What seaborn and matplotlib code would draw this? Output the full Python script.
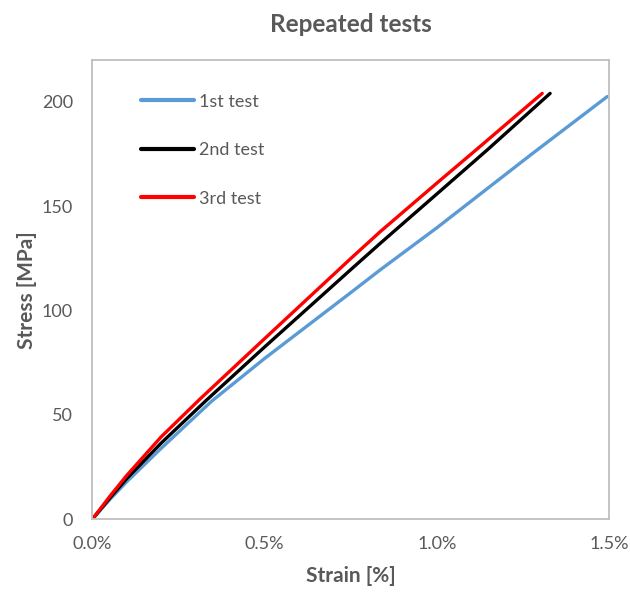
import matplotlib
matplotlib.use("Agg")
import matplotlib.pyplot as plt
import seaborn as sns
import pandas as pd
from matplotlib.ticker import FuncFormatter

# ---- data (strain in %, stress in MPa) ----
strain_1st = [0.0, 0.05, 0.10, 0.20, 0.346, 0.50, 0.749, 0.836, 1.00, 1.273, 1.495]
stress_1st = [0.0, 9.3, 18.0, 34.0, 56.5, 77.0, 108.4, 119.5, 139.6, 174.6, 202.5]

strain_2nd = [0.0, 0.05, 0.10, 0.20, 0.331, 0.50, 0.749, 0.836, 1.00, 1.147, 1.329]
stress_2nd = [0.0, 10.0, 19.5, 36.5, 57.0, 82.5, 119.4, 132.2, 155.8, 177.0, 204.0]

strain_3rd = [0.0, 0.05, 0.10, 0.20, 0.312, 0.50, 0.749, 0.836, 1.00, 1.118, 1.306]
stress_3rd = [0.0, 10.8, 21.0, 39.5, 57.5, 86.5, 124.7, 137.8, 161.0, 177.5, 204.0]

labels = ["1st test", "2nd test", "3rd test"]
colors = ["#5B9BD5", "#000000", "#FF0000"]

x_ticks = [0.0, 0.5, 1.0, 1.5]
y_ticks = [0, 50, 100, 150, 200]

frames = []
for lab, xs, ys in zip(labels, [strain_1st, strain_2nd, strain_3rd],
                       [stress_1st, stress_2nd, stress_3rd]):
    frames.append(pd.DataFrame({"strain": xs, "stress": ys, "test": lab}))
df = pd.concat(frames, ignore_index=True)

sns.set_theme(style="white")
plt.rcParams["font.family"] = ["Lato", "DejaVu Sans"]

fig = plt.figure(figsize=(6.3, 5.94), dpi=100)
ax = fig.add_axes([0.1465, 0.1258, 0.8202, 0.7732])

sns.lineplot(data=df, x="strain", y="stress", hue="test", hue_order=labels,
             palette=dict(zip(labels, colors)), sort=False, estimator=None,
             linewidth=2.4, ax=ax, legend=True)

ax.set_xlim(0, 1.5)
ax.set_ylim(0, 220)
ax.set_xticks(x_ticks)
ax.set_yticks(y_ticks)
ax.xaxis.set_major_formatter(FuncFormatter(lambda v, p: f"{v:.1f}%"))

gray = "#595959"
for s in ax.spines.values():
    s.set_color("#BFBFBF")
    s.set_linewidth(1.3)
ax.tick_params(axis="both", direction="in", length=5, width=1.2,
               color="#BFBFBF", labelsize=13, labelcolor=gray)
ax.tick_params(axis="x", pad=12)
ax.tick_params(axis="y", pad=14)

ax.set_xlabel("Strain [%]", fontsize=15, fontweight="bold", color=gray, labelpad=10)
ax.set_ylabel("Stress [MPa]", fontsize=15, fontweight="bold", color=gray, labelpad=3)
ax.set_title("Repeated tests", fontsize=17.5, fontweight="bold", color=gray, pad=20)

handles, labs = ax.get_legend_handles_labels()
leg = ax.legend(handles, labs, loc="upper left", bbox_to_anchor=(0.095, 0.927),
                frameon=False, fontsize=13, handlelength=2.9, handletextpad=0.3,
                labelspacing=1.8, borderpad=0, borderaxespad=0)
for t in leg.get_texts():
    t.set_color(gray)
for h in leg.get_lines():
    h.set_linewidth(3)

fig.savefig("out.png", dpi=100)
